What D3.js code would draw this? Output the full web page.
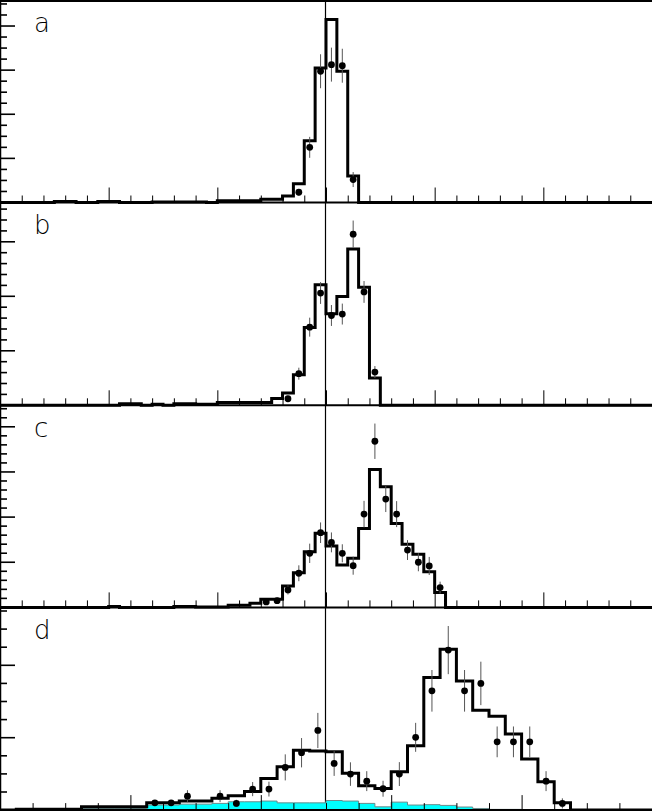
<!DOCTYPE html>
<html><head><meta charset="utf-8">
<script src="https://cdn.jsdelivr.net/npm/d3@7"></script>
<style>html,body{margin:0;padding:0;background:#fff;}svg{display:block;}</style>
</head><body>
<svg id="chart" width="652" height="811"></svg>
<script>
// ---------- DATA (y in minor-tick units, x in axis units, bins 0.5 wide) ----------
const panelLabels = ["a", "b", "c", "d"];
const binWidth = 0.5;
const xDomainABC = [0, 30];
const xDomainD = [0, 20];
const centerLineABC = 15;
const centerLineD = 10;

const histA = [0,0,0,0,0, 0.1,0.1,0,0,0.1, 0.1,0,0,0,0.05, 0.05,0.05,0.05,0.05,0,
  0.15,0.15,0.15,0.15,0.3, 0.3,0.6,1.69,5.6,12.2, 16.6,11.9,2.4,0,0, 0,0,0,0,0,
  0,0,0,0,0, 0,0,0,0,0, 0,0,0,0,0, 0,0,0,0,0];
const histB = [0,0,0,0,0, 0,0,0,0,0, 0,0.15,0.15,0,0.1, 0,0.15,0.15,0.1,0.1,
  0.25,0.25,0.25,0.25,0.25, 0.62,1.12,2.8,7.14,11.06, 8.4,9.98,14.33,10.84,2.5, 0,0,0,0,0,
  0,0,0,0,0, 0,0,0,0,0, 0,0,0,0,0, 0,0,0,0,0];
const histC = [0,0,0,0,0, 0,0,0,0,0, 0.1,0,0,0,0, 0,0.1,0.1,0.05,0.05,
  0.05,0.25,0.25,0.45,0.9, 0.9,2.37,3.85,6.17,8.2, 6.8,4.7,5.43,8.75,15.27, 13.35,9.3,6.98,5.88,3.96,
  1.64,0,0,0,0, 0,0,0,0,0, 0,0,0,0,0, 0,0,0,0,0];
const histD = [0,0.05,0.05,0.05,0.05, 0.18,0.18,0.18,0.18,0.4, 0.4,0.5,0.5,0.65,0.79, 1.03,1.75,2.39,3.31,3.26,
  3.22,2.03,1.34,1.2,2.12, 3.55,7.33,8.88,7.13,5.52, 5.19,4.2,2.82,1.57,0.4, 0,0,0,0,0];
const cyanD = [0,0,0,0,0, 0.09,0.09,0.09,0.09,0.28, 0.28,0.33,0.33,0.37,0.46, 0.46,0.5,0.4,0.4,0.4,
  0.53,0.5,0.37,0.18,0.44, 0.28,0.3,0.26,0.17,0.09, 0.04,0.04,0,0,0, 0,0,0,0,0];

const ptsAx = [13.75, 14.25, 14.75, 15.25, 15.75, 16.25];
const ptsAy = [0.93, 5.0, 11.9, 12.5, 12.4, 2.08];
const ptsAe = [0.3, 0.95, 1.54, 1.54, 1.54, 0.68];

const ptsBx = [13.25, 13.75, 14.25, 14.75, 15.25, 15.75, 16.25, 16.75, 17.25];
const ptsBy = [0.6, 2.9, 7.17, 10.3, 8.24, 8.37, 15.7, 10.4, 3.05];
const ptsBe = [0.28, 0.55, 0.87, 1.0, 0.96, 0.96, 1.25, 1.0, 0.55];

const ptsCx = [12.25, 12.75, 13.25, 13.75, 14.25, 14.75, 15.25, 15.75, 16.25, 16.75, 17.25, 17.75, 18.25, 18.75, 19.25, 19.75, 20.25];
const ptsCy = [0.61, 0.75, 1.93, 3.78, 5.99, 8.27, 7.2, 5.99, 4.62, 10.33, 18.4, 12.0, 10.33, 6.35, 5.0, 4.59, 2.19];
const ptsCe = [0.3, 0.3, 0.5, 0.88, 1.07, 1.14, 1.1, 1.0, 1.0, 1.47, 1.96, 1.44, 1.44, 1.1, 1.0, 1.0, 0.66];

const ptsDx = [4.75, 5.25, 5.75, 6.75, 7.25, 7.75, 8.25, 8.75, 9.25, 9.75, 10.25, 10.75, 11.25, 11.75, 12.25, 12.75, 13.25, 13.75, 14.25, 14.75, 15.25, 15.75, 16.25, 16.75, 17.25];
const ptsDy = [0.4, 0.4, 0.77, 0.77, 0.37, 1.16, 1.16, 2.36, 3.17, 4.4, 2.58, 1.99, 1.6, 1.18, 1.99, 4.02, 6.59, 8.84, 6.59, 7.0, 3.77, 3.77, 3.77, 1.6, 0.37];
const ptsDe = [0.15, 0.15, 0.33, 0.33, 0.2, 0.39, 0.41, 0.72, 0.81, 0.97, 0.69, 0.65, 0.55, 0.44, 0.66, 0.8, 1.15, 1.33, 1.15, 1.2, 0.85, 0.85, 0.85, 0.55, 0.28];

const yMajorEvery = [4, 5, 5, 4];
const xMajorEvery = [5, 5, 5, 4];

// ---------- LAYOUT ----------
const W = 652, H = 811;
const panelTop = [0, 202.5, 405.3, 607.4];
const panelBottom = [202.5, 405.3, 607.4, 810.1];
const minorPx = [11.03, 10.9, 9.03, 18.1];

const svg = d3.select("#chart");
const panels = [
  {hist: histA, px: ptsAx, py: ptsAy, pe: ptsAe, xd: xDomainABC, cl: centerLineABC},
  {hist: histB, px: ptsBx, py: ptsBy, pe: ptsBe, xd: xDomainABC, cl: centerLineABC},
  {hist: histC, px: ptsCx, py: ptsCy, pe: ptsCe, xd: xDomainABC, cl: centerLineABC},
  {hist: histD, px: ptsDx, py: ptsDy, pe: ptsDe, xd: xDomainD, cl: centerLineD, cyan: cyanD}
];

panels.forEach((p, k) => {
  const top = panelTop[k], bot = panelBottom[k];
  const x = d3.scaleLinear().domain(p.xd).range([0, W]);
  const y = d3.scaleLinear().domain([0, (bot - top) / minorPx[k]]).range([bot, top]);
  const g = svg.append("g");

  const stepPts = h => {
    const arr = h.map((v, i) => [i * binWidth, v]);
    arr.push([h.length * binWidth, h[h.length - 1]]);
    return arr;
  };

  if (p.cyan) {
    const area = d3.area().curve(d3.curveStepAfter)
      .x(d => x(d[0])).y0(y(0)).y1(d => y(d[1]));
    g.append("path").datum(stepPts(p.cyan)).attr("d", area)
      .attr("fill", "#00ffff").attr("stroke", "#6a8a8a").attr("stroke-width", 1);
  }

  const line = d3.line().curve(d3.curveStepAfter).x(d => x(d[0])).y(d => y(d[1]));
  g.append("path").datum(stepPts(p.hist)).attr("d", line)
    .attr("fill", "none").attr("stroke", "#000").attr("stroke-width", 3)
    .attr("stroke-linejoin", "miter");

  const pts = p.px.map((xv, i) => ({x: xv, y: p.py[i], e: p.pe[i]}));
  g.selectAll(".eb").data(pts).join("line")
    .attr("x1", d => x(d.x)).attr("x2", d => x(d.x))
    .attr("y1", d => y(d.y - d.e)).attr("y2", d => y(d.y + d.e))
    .attr("stroke", "#555").attr("stroke-width", 1);
  g.selectAll(".dot").data(pts).join("circle")
    .attr("cx", d => x(d.x)).attr("cy", d => y(d.y)).attr("r", 3.4).attr("fill", "#000");

  // x ticks (pointing up from baseline)
  const xt = d3.range(p.xd[0] + 1, p.xd[1], 1);
  g.selectAll(".xt").data(xt).join("line")
    .attr("x1", d => x(d) + 0.5).attr("x2", d => x(d) + 0.5)
    .attr("y1", bot).attr("y2", d => bot - (d % xMajorEvery[k] === 0 ? 15 : 7))
    .attr("stroke", "#000").attr("stroke-width", 1);

  // y ticks (pointing right from left axis)
  const yMax = (bot - top) / minorPx[k];
  const yt = d3.range(1, Math.floor(yMax + 0.4) + 1, 1).filter(v => y(v) > top + 2);
  g.selectAll(".yt").data(yt).join("line")
    .attr("x1", 0).attr("x2", d => (d % yMajorEvery[k] === 0 ? 15 : 7))
    .attr("y1", d => y(d)).attr("y2", d => y(d))
    .attr("stroke", "#000").attr("stroke-width", 1.6);

  // baseline
  g.append("line").attr("x1", 0).attr("x2", W).attr("y1", bot).attr("y2", bot)
    .attr("stroke", "#000").attr("stroke-width", 2);

  g.append("text").attr("x", 34).attr("y", top + 31.5)
    .attr("font-family", "DejaVu Sans, sans-serif").attr("font-weight", 200)
    .attr("font-size", 26).attr("fill", "#000").text(panelLabels[k]);

  if (k === 0) {
    svg.append("line").attr("x1", x(p.cl) - 0.5).attr("x2", x(p.cl) - 0.5)
      .attr("y1", 0).attr("y2", H).attr("stroke", "#000").attr("stroke-width", 1.2);
  }
});

// frame: top and left
svg.append("line").attr("x1", 0).attr("x2", W).attr("y1", 1).attr("y2", 1)
  .attr("stroke", "#000").attr("stroke-width", 2);
svg.append("line").attr("x1", 0.5).attr("x2", 0.5).attr("y1", 0).attr("y2", H)
  .attr("stroke", "#000").attr("stroke-width", 1.5);
</script>
</body></html>
